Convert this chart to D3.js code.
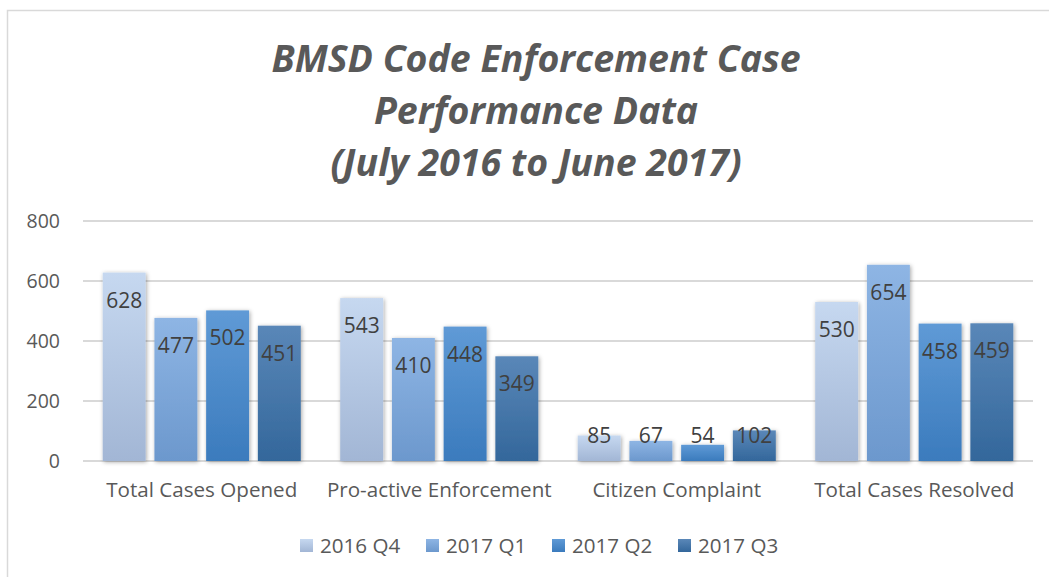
<!DOCTYPE html>
<html>
<head>
<meta charset="utf-8">
<script src="https://cdn.jsdelivr.net/npm/d3@7"></script>
<style>
  html, body { margin: 0; padding: 0; background: #fff; }
  svg { display: block; font-family: "Open Sans", sans-serif; }
</style>
</head>
<body>
<div id="chart"></div>
<script>
// chart values
const categories = ['Total Cases Opened', 'Pro-active Enforcement', 'Citizen Complaint', 'Total Cases Resolved'];
const seriesNames = ['2016 Q4', '2017 Q1', '2017 Q2', '2017 Q3'];
const q4_2016 = [628, 543, 85, 530];
const q1_2017 = [477, 410, 67, 654];
const q2_2017 = [502, 448, 54, 458];
const q3_2017 = [451, 349, 102, 459];
const yTicks = [0, 200, 400, 600, 800];
const titleLines = ['BMSD Code Enforcement Case', 'Performance Data', '(July 2016 to June 2017)'];

const seriesValues = [q4_2016, q1_2017, q2_2017, q3_2017];
// gradient stops: [top, bottom]
const seriesColors = [
  ['#c6d8f0', '#a2b6d5'],
  ['#8eb5e4', '#6c98cd'],
  ['#5f9ad6', '#3b7bbd'],
  ['#5a87b8', '#33679b']
];

const width = 1049;
const height = 577;
const margin = {top: 221, left: 83};
const plotW = 950;
const plotH = 240;
const font = '"Open Sans", sans-serif';

const svg = d3.select('#chart')
  .append('svg')
  .attr('width', width)
  .attr('height', height);

const defs = svg.append('defs');
seriesColors.forEach((c, i) => {
  const g = defs.append('linearGradient')
    .attr('id', 'grad' + i)
    .attr('x1', 0).attr('y1', 0).attr('x2', 0).attr('y2', 1);
  g.append('stop').attr('offset', '0%').attr('stop-color', c[0]);
  g.append('stop').attr('offset', '100%').attr('stop-color', c[1]);
});
const shadow = defs.append('filter')
  .attr('id', 'shadow')
  .attr('x', '-20%').attr('y', '-20%')
  .attr('width', '140%').attr('height', '140%');
shadow.append('feDropShadow')
  .attr('dx', 1).attr('dy', 1)
  .attr('stdDeviation', 2)
  .attr('flood-color', '#000')
  .attr('flood-opacity', 0.35);

// outer frame
svg.append('rect')
  .attr('x', 7.5).attr('y', 10.5)
  .attr('width', width + 20).attr('height', height + 20)
  .attr('fill', 'none')
  .attr('stroke', '#d9d9d9')
  .attr('stroke-width', 1.5);

// title
svg.append('text')
  .attr('text-anchor', 'middle')
  .attr('fill', '#595959')
  .attr('font-size', 37.5)
  .attr('font-weight', 'bold')
  .attr('font-style', 'italic')
  .selectAll('tspan')
  .data(titleLines)
  .join('tspan')
  .attr('x', 536)
  .attr('y', (d, i) => 72 + i * 52)
  .text(d => d);

const chart = svg.append('g')
  .attr('transform', 'translate(' + margin.left + ',' + margin.top + ')');

const x0 = d3.scaleBand()
  .domain(categories)
  .range([0, plotW])
  .paddingInner(0.166)
  .paddingOuter(0.083);

const x1 = d3.scaleBand()
  .domain(seriesNames)
  .range([0, x0.bandwidth()])
  .paddingInner(0.17);

const y = d3.scaleLinear()
  .domain([0, 800])
  .range([plotH, 0]);

// gridlines
chart.append('g')
  .selectAll('line')
  .data(yTicks)
  .join('line')
  .attr('x1', 0)
  .attr('x2', plotW)
  .attr('y1', d => y(d))
  .attr('y2', d => y(d))
  .attr('stroke', '#d9d9d9')
  .attr('stroke-width', 2);

// y axis labels
const yAxis = d3.axisLeft(y).tickValues(yTicks).tickSize(0).tickPadding(23);
chart.append('g')
  .call(yAxis)
  .call(g => g.select('.domain').remove())
  .selectAll('text')
  .attr('fill', '#595959')
  .attr('font-size', 19.5)
  .attr('font-family', font);

// x axis labels
const xAxis = d3.axisBottom(x0).tickSize(0).tickPadding(21);
chart.append('g')
  .attr('transform', 'translate(0,' + plotH + ')')
  .call(xAxis)
  .call(g => g.select('.domain').remove())
  .selectAll('text')
  .attr('fill', '#595959')
  .attr('font-size', 20.6)
  .attr('font-family', font);

// bars
const rows = categories.map((c, ci) => ({
  category: c,
  values: seriesNames.map((s, si) => ({series: s, idx: si, value: seriesValues[si][ci]}))
}));

const groups = chart.append('g')
  .selectAll('g')
  .data(rows)
  .join('g')
  .attr('transform', d => 'translate(' + x0(d.category) + ',0)');

groups.selectAll('rect')
  .data(d => d.values)
  .join('rect')
  .attr('x', d => x1(d.series))
  .attr('y', d => y(d.value))
  .attr('width', x1.bandwidth())
  .attr('height', d => plotH - y(d.value))
  .attr('fill', d => 'url(#grad' + d.idx + ')')
  .attr('filter', 'url(#shadow)');

groups.selectAll('text.label')
  .data(d => d.values)
  .join('text')
  .attr('class', 'label')
  .attr('x', d => x1(d.series) + x1.bandwidth() / 2)
  .attr('y', d => Math.min(y(d.value) + 35, plotH - 18))
  .attr('text-anchor', 'middle')
  .attr('fill', '#404040')
  .attr('font-size', 21)
  .text(d => d.value);

// legend
const legendX = [300, 426, 552, 678];
const legend = svg.append('g')
  .selectAll('g')
  .data(seriesNames)
  .join('g')
  .attr('transform', (d, i) => 'translate(' + legendX[i] + ',539)');
legend.append('rect')
  .attr('width', 13)
  .attr('height', 13)
  .attr('fill', (d, i) => 'url(#grad' + i + ')');
legend.append('text')
  .attr('x', 20)
  .attr('y', 14)
  .attr('fill', '#595959')
  .attr('font-size', 20.6)
  .text(d => d);
</script>
</body>
</html>
